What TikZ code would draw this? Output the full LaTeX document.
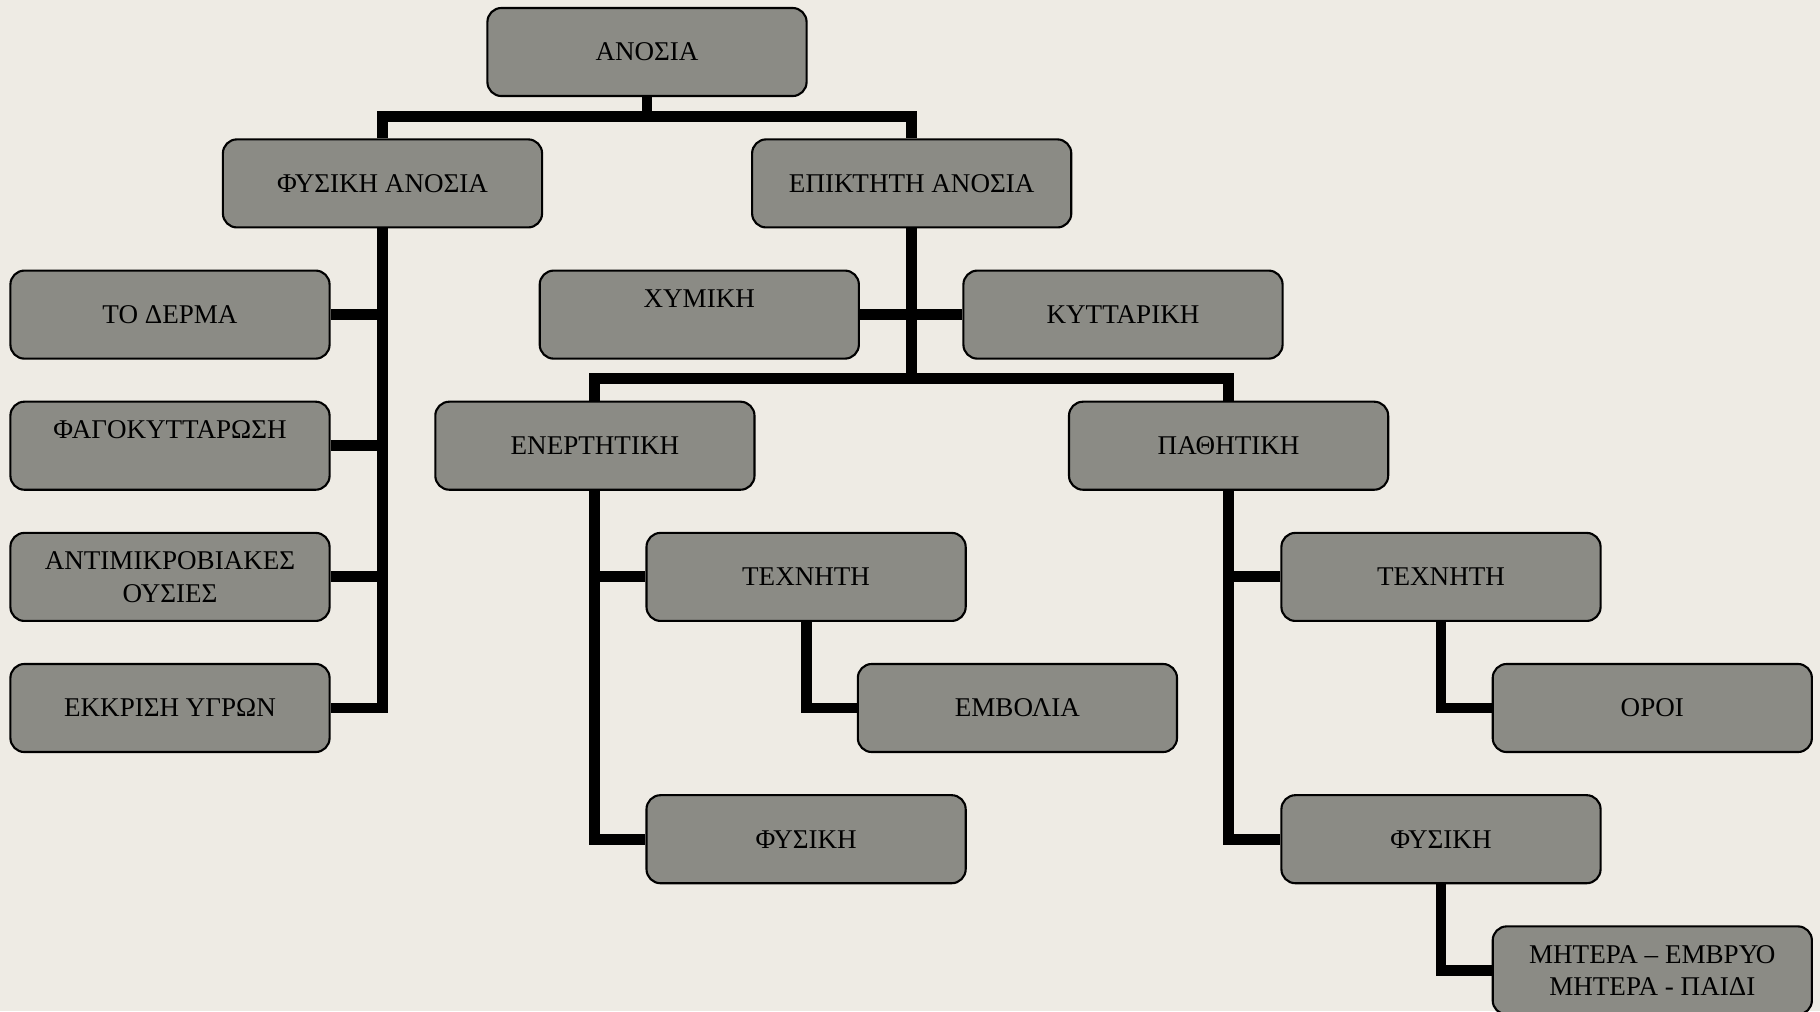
\documentclass[tikz,border=0pt]{standalone}
\usepackage{fontspec}
\setmainfont{Liberation Serif}
\definecolor{paper}{HTML}{EEEBE4}
\definecolor{boxgray}{HTML}{8B8B85}
\tikzstyle{box} = [draw, fill=boxgray, rectangle, rounded corners=0.14cm,
    line width=0.6pt, minimum height=0.88cm, minimum width=3.19cm,
    inner sep=0pt, align=center, font=\fontsize{7.7}{9.3}\selectfont]
\tikzstyle{link} = [black, line width=3.1pt]

\begin{document}
\begin{tikzpicture}[x=0.01cm, y=-0.01cm]
          \fill [paper] (0,0) rectangle (1820,1011);
          \useasboundingbox (0,0) rectangle (1820,1011);

          \node (anosia) [box] at (647,52) {ΑΝΟΣΙΑ};
          \node (fysiki) [box] at (382.5,183.4) {ΦΥΣΙΚΗ ΑΝΟΣΙΑ};
          \node (epiktiti) [box] at (911.7,183.4) {ΕΠΙΚΤΗΤΗ ΑΝΟΣΙΑ};

          \node (derma) [box] at (170,314.6) {ΤΟ ΔΕΡΜΑ};
          \node (fago) [box] at (170,445.7) {ΦΑΓΟΚΥΤΤΑΡΩΣΗ\\\phantom{Χ}};
          \node (antimikro) [box] at (170,576.9) {ΑΝΤΙΜΙΚΡΟΒΙΑΚΕΣ\\ΟΥΣΙΕΣ};
          \node (ekkrisi) [box] at (170,708) {ΕΚΚΡΙΣΗ ΥΓΡΩΝ};

          \node (xymiki) [box] at (699.3,314.6) {ΧΥΜΙΚΗ\\\phantom{Χ}};
          \node (kyttariki) [box] at (1123,314.6) {ΚΥΤΤΑΡΙΚΗ};
          \node (energ) [box] at (594.9,445.7) {ΕΝΕΡΤΗΤΙΚΗ};
          \node (path) [box] at (1228.6,445.7) {ΠΑΘΗΤΙΚΗ};

          \node (technL) [box] at (806.1,576.9) {ΤΕΧΝΗΤΗ};
          \node (embolia) [box] at (1017.4,708) {ΕΜΒΟΛΙΑ};
          \node (fysL) [box] at (806.1,839.2) {ΦΥΣΙΚΗ};
          \node (technR) [box] at (1441,576.9) {ΤΕΧΝΗΤΗ};
          \node (oroi) [box] at (1652.3,708) {ΟΡΟΙ};
          \node (fysR) [box] at (1441,839.2) {ΦΥΣΙΚΗ};
          \node (mitera) [box] at (1652.3,970.4) {ΜΗΤΕΡΑ – ΕΜΒΡΥΟ\\ΜΗΤΕΡΑ - ΠΑΙΔΙ};

          \draw [link] (anosia.south) -- ++(0,22);
          \draw [link] (fysiki.north) -- ++(0,-22) -| (epiktiti.north);

          \draw [link] (fysiki.south) |- (ekkrisi.east);
          \draw [link] (derma.east) -- (derma.east -| fysiki.south);
          \draw [link] (fago.east) -- (fago.east -| fysiki.south);
          \draw [link] (antimikro.east) -- (antimikro.east -| fysiki.south);

          \draw [link] (epiktiti.south) -- ++(0,152.5);
          \draw [link] (xymiki.east) -- (kyttariki.west);
          \draw [link] (energ.north) -- ++(0,-22) -| (path.north);

          \draw [link] (energ.south) |- (fysL.west);
          \draw [link] (technL.west) -- (technL.west -| energ.south);
          \draw [link] (technL.south) |- (embolia.west);

          \draw [link] (path.south) |- (fysR.west);
          \draw [link] (technR.west) -- (technR.west -| path.south);
          \draw [link] (technR.south) |- (oroi.west);
          \draw [link] (fysR.south) |- (mitera.west);
        \end{tikzpicture}
\end{document}
